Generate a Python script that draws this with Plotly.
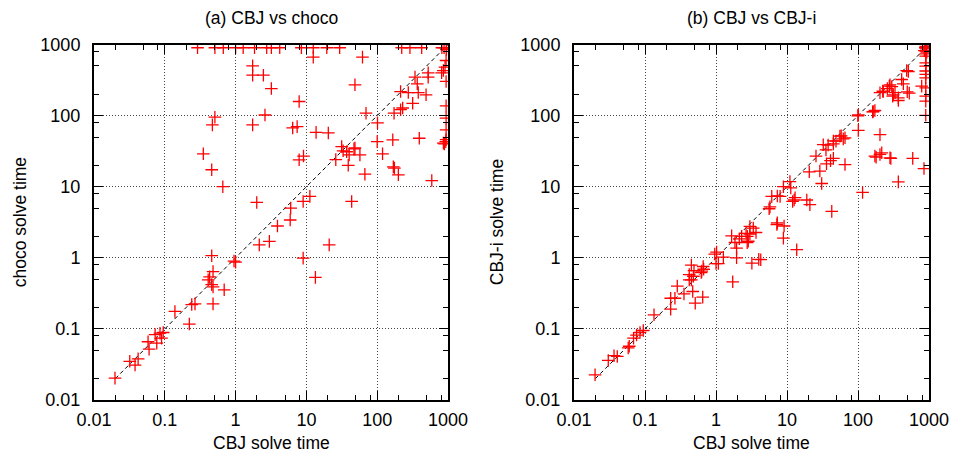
import plotly.graph_objects as go

# ---------------- data: (a) CBJ vs choco ----------------
choco_cbj = [
    0.29, 0.51, 0.67, 1.0, 1.28, 1.85, 2.75, 3.2, 4.2, 8.5, 12.5, 19.4, 29.5, 222, 290, 425, 820, 880, 950,
    1.74, 1.74, 2.47, 3.2, 12.5, 62, 48.5, 7.9, 69.5, 2.6, 0.51, 0.47, 1.74, 6.4, 7.4, 13.7, 20.4,
    0.35, 0.46, 0.66, 7.9, 9.1, 31.5, 37, 40.2, 48.5, 57, 26, 39, 67, 101, 100, 119, 173, 214, 229,
    166, 317, 214, 275, 380, 490, 368, 342, 525, 525, 813, 860, 908, 940, 940, 940, 940, 940, 940,
    860, 393, 169, 199, 590, 11.2, 9.0, 1.99, 6.0, 43.6, 5.9, 3.9, 3.0, 2.16, 21, 9.0, 13.4, 1.0,
    0.95, 0.46, 0.48, 0.41, 0.43, 0.46, 0.48, 0.69, 0.48, 0.24, 0.267, 0.139, 0.222, 0.0855, 0.095,
    0.073, 0.09, 0.077, 0.058, 0.06, 0.032, 0.038, 0.042, 0.0198, 33, 47, 175, 930, 890, 950,
]
choco_time = [
    900, 900, 900, 900, 900, 900, 900, 900, 900, 900, 900, 900, 900, 900, 900, 900, 900, 900, 900,
    500, 370, 370, 240, 665, 665, 271, 158, 108, 102, 95, 74, 74, 67, 70, 58, 57,
    29, 17.3, 10, 23.9, 27, 36.7, 31, 28, 35, 28, 24, 20, 15, 79, 43, 29, 108, 121, 128,
    45.7, 149, 218, 211, 211, 196, 280, 348, 400, 348, 400, 430, 480, 596, 302, 137, 92, 63, 46,
    41, 48, 19, 14.7, 12.2, 7.3, 6.2, 6.0, 5.0, 6.2, 3.4, 2.8, 1.7, 1.52, 1.52, 0.99, 0.53, 0.87,
    0.9, 1.07, 0.64, 0.49, 0.54, 0.42, 0.39, 0.355, 0.225, 0.22, 0.225, 0.176, 0.117, 0.087, 0.089,
    0.083, 0.074, 0.063, 0.066, 0.052, 0.035, 0.031, 0.038, 0.0203, 32, 34, 18.3, 43, 40, 850,
]

# ---------------- data: (b) CBJ vs CBJ-i ----------------
cbji_cbj = [
    890, 900, 920, 860, 930,
    900, 900, 900, 900, 900, 900, 900, 900, 900, 900, 900, 900, 900,
    789, 850, 485, 412, 435, 494, 332, 370, 370, 308, 276, 223, 204, 259, 173, 161, 101, 101, 204,
    173, 204, 216, 180, 282, 290, 590, 370, 55.7, 65.6, 62, 49, 45, 32.4, 38, 35.4, 25.6, 45, 41, 36,
    65.6, 20.6, 29, 30.8, 116, 42.7, 21, 19, 12.6, 13, 11, 11.3, 8.9, 8.0, 7.3, 6.1, 5.75, 5.6, 12,
    7.3, 7.2, 9.1, 8.9, 13.7, 3.35, 3.0, 3.66, 3.0, 2.76, 2.65, 2.3, 2.13, 1.66, 1.85, 1.95, 2.85, 2.75,
    4.27, 4.0, 3.2, 1.95, 1.27, 1.02, 0.96, 1.0, 1.08, 1.72, 0.66, 0.67, 0.63, 0.62, 0.45, 0.49, 0.42,
    0.48, 0.45, 0.42, 0.47, 0.65, 0.51, 0.354, 0.285, 0.264, 0.23, 0.23, 0.134, 0.0946, 0.085, 0.076,
    0.069, 0.06, 0.058, 0.0407, 0.0366, 0.0304, 0.0198, 99.6, 164, 527, 314, 299, 227, 282, 512, 45, 58,
]
cbji_time = [
    900, 940, 870, 820, 780,
    900, 807, 740, 687, 553, 497, 424, 379, 340, 246, 188, 160, 101,
    260, 18, 430, 322, 280, 216, 210, 178, 163, 188, 260, 221, 210, 240, 118, 113, 102, 62, 54,
    27, 28.4, 30, 26, 25.5, 25, 25, 11.7, 51.5, 48.7, 47, 43.8, 40, 39, 38.5, 33, 27, 25, 23.3, 21,
    20.5, 16.2, 16.6, 11.1, 8.3, 4.5, 5.6, 6.5, 6.5, 7.0, 11.8, 9.6, 10, 7.3, 7.4, 7.3, 5.2, 4.9, 6.2,
    3.1, 2.94, 2.8, 1.89, 1.3, 2.62, 2.76, 2.27, 2.16, 2.0, 2.2, 2.0, 1.85, 2.04, 1.64, 1.37, 1.71, 1.63,
    0.94, 0.95, 0.84, 1.0, 1.02, 1.2, 1.13, 0.83, 0.83, 0.46, 0.755, 0.69, 0.65, 0.62, 0.79, 0.66, 0.58,
    0.55, 0.49, 0.49, 0.336, 0.28, 0.23, 0.31, 0.4, 0.27, 0.27, 0.19, 0.158, 0.095, 0.089, 0.082,
    0.074, 0.057, 0.054, 0.041, 0.042, 0.036, 0.0226, 99.3, 114, 207, 196, 256, 218, 271, 417, 44, 52,
]

diag = [0.02, 1000]
tick_vals = [0.01, 0.1, 1, 10, 100, 1000]
tick_text = ["0.01", "0.1", "1", "10", "100", "1000"]
minor_vals = [m * 10.0 ** e for e in range(-2, 3) for m in (2, 5, 8)]

W, H = 953, 456
FONT = "Liberation Sans, Arial, sans-serif"

def px_x(p):
    return p / W

def px_y(p):
    return 1 - p / H

fig = go.Figure()

marker = dict(symbol="cross-thin", size=9, color="#ff0000",
              line=dict(width=1.3, color="#ff0000"))

for xa, ya, xs, ys in [("x", "y", choco_cbj, choco_time), ("x2", "y2", cbji_cbj, cbji_time)]:
    fig.add_trace(go.Scatter(x=diag, y=diag, mode="lines", xaxis=xa, yaxis=ya,
                             line=dict(color="black", width=1, dash="4px,3px"),
                             showlegend=False, hoverinfo="skip"))
    fig.add_trace(go.Scatter(x=xs, y=ys, mode="markers", xaxis=xa, yaxis=ya,
                             marker=marker, showlegend=False, cliponaxis=True))

def axis_style(domain, anchor, standoff):
    return dict(
        type="log", range=[-2, 3], domain=domain, anchor=anchor,
        tickmode="array", tickvals=tick_vals, ticktext=tick_text,
        ticks="inside", ticklen=9, tickwidth=1, tickcolor="black",
        showline=True, linecolor="black", linewidth=2, mirror="allticks",
        showgrid=True, gridcolor="#444444", griddash="1px,2px", gridwidth=1,
        minor=dict(tickmode="array", tickvals=minor_vals, ticks="inside",
                   ticklen=5, tickwidth=1, tickcolor="black", showgrid=False),
        tickfont=dict(family=FONT, size=18, color="black"),
        ticklabelstandoff=standoff,
        zeroline=False, fixedrange=True, automargin=False,
    )

y_dom = [px_y(400), px_y(44.5)]
x1_dom = [px_x(94), px_x(448)]
x2_dom = [px_x(574), px_x(929)]

fig.update_layout(
    width=W, height=H, autosize=False,
    margin=dict(l=0, r=0, t=0, b=0, pad=0, autoexpand=False),
    paper_bgcolor="white", plot_bgcolor="white",
    font=dict(family=FONT, size=18, color="black"),
    xaxis=axis_style(x1_dom, "y", 2),
    yaxis=axis_style(y_dom, "x", 8),
    xaxis2=axis_style(x2_dom, "y2", 2),
    yaxis2=axis_style(y_dom, "x2", 8),
    showlegend=False,
)

ann = dict(xref="paper", yref="paper", showarrow=False, xanchor="center", yanchor="middle",
           font=dict(family=FONT, size=17.5, color="black"))
fig.add_annotation(text="(a) CBJ vs choco", x=sum(x1_dom) / 2, y=px_y(18), **ann)
fig.add_annotation(text="(b) CBJ vs CBJ-i", x=sum(x2_dom) / 2, y=px_y(18), **ann)
fig.add_annotation(text="CBJ solve time", x=sum(x1_dom) / 2, y=px_y(443), **ann)
fig.add_annotation(text="CBJ solve time", x=sum(x2_dom) / 2, y=px_y(443), **ann)
fig.add_annotation(text="choco solve time", x=px_x(20), y=sum(y_dom) / 2, textangle=-90, **ann)
fig.add_annotation(text="CBJ-i solve time", x=px_x(497), y=sum(y_dom) / 2, textangle=-90, **ann)

fig.write_html(
    "out.html",
    config={"responsive": False, "displayModeBar": False},
    post_script="document.body.style.margin='0';document.body.style.overflow='hidden';",
)
